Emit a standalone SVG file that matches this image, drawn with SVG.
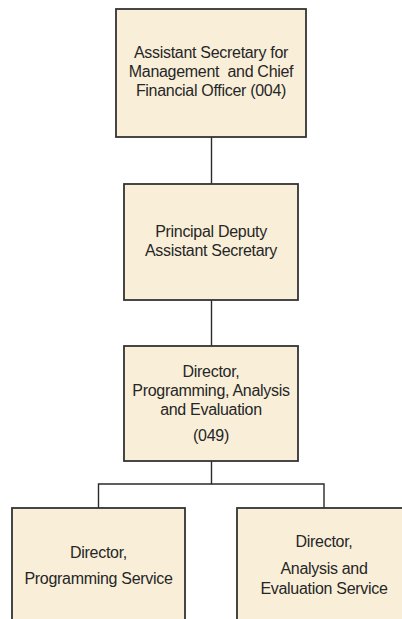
<svg xmlns="http://www.w3.org/2000/svg" width="402" height="619" viewBox="0 0 402 619">
<style>
.box{fill:#f9efd9;stroke:#333333;stroke-width:1.8}
.t{font-family:"Liberation Sans","Open Sans",sans-serif;font-size:16px;fill:#262626;text-anchor:middle;letter-spacing:-0.3px}
.c{stroke:#2a2a2a;stroke-width:1.4;fill:none}
</style>
<rect width="402" height="619" fill="#ffffff"/>
<g id="connectors">
<line class="c" x1="211.5" y1="137" x2="211.5" y2="184"/>
<line class="c" x1="211.5" y1="300" x2="211.5" y2="346"/>
<polyline class="c" points="211.5,461 211.5,484 98.5,484 98.5,508"/>
<polyline class="c" points="211.5,484 324,484 324,508"/>
</g>
<g id="n1">
<rect class="box" x="116" y="9" width="190" height="128"/>
<text class="t" x="211" y="58">Assistant Secretary for</text>
<text class="t" x="211" y="77" style="white-space:pre">Management  and Chief</text>
<text class="t" x="211" y="96">Financial Officer (004)</text>
</g>
<g id="n2">
<rect class="box" x="124" y="184" width="174" height="116"/>
<text class="t" x="211" y="237">Principal Deputy</text>
<text class="t" x="211" y="256">Assistant Secretary</text>
</g>
<g id="n3">
<rect class="box" x="124" y="346" width="174" height="115"/>
<text class="t" x="211" y="377">Director,</text>
<text class="t" x="211" y="396">Programming, Analysis</text>
<text class="t" x="211" y="415">and Evaluation</text>
<text class="t" x="211" y="441">(049)</text>
</g>
<g id="n4">
<rect class="box" x="12" y="508" width="173" height="130"/>
<text class="t" x="98.5" y="558">Director,</text>
<text class="t" x="98.5" y="584">Programming Service</text>
</g>
<g id="n5">
<rect class="box" x="237" y="508" width="174" height="130"/>
<text class="t" x="324" y="547">Director,</text>
<text class="t" x="324" y="574">Analysis and</text>
<text class="t" x="324" y="594">Evaluation Service</text>
</g>
</svg>
